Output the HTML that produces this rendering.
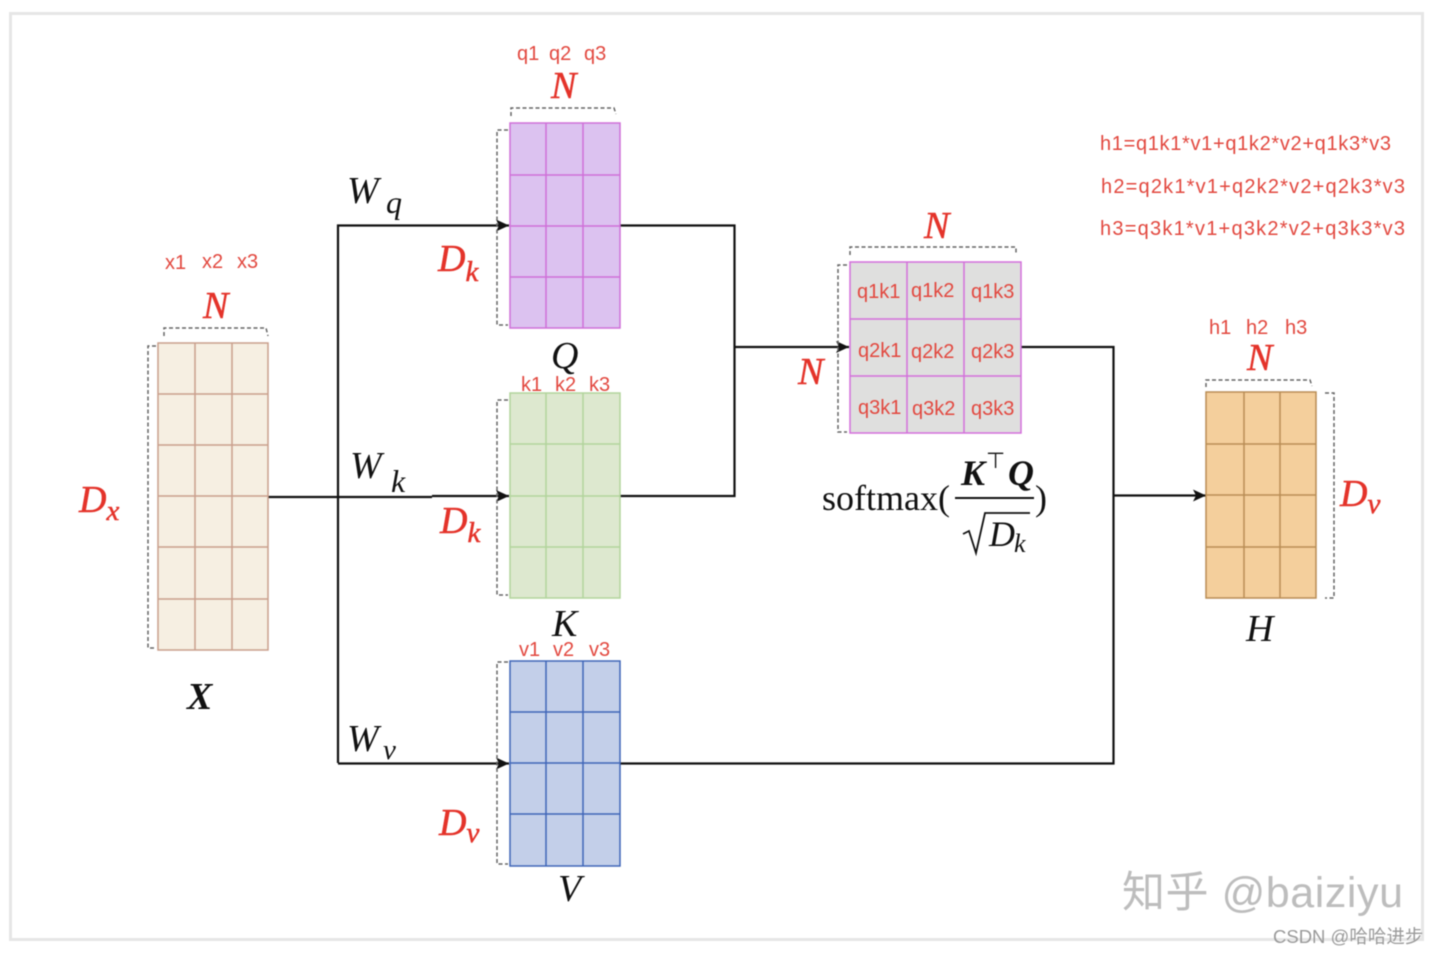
<!DOCTYPE html>
<html><head><meta charset="utf-8"><style>
html,body{margin:0;padding:0;background:#fff}
svg{display:block;filter:blur(.55px)}
.s{font-family:"Liberation Sans",sans-serif;fill:#e2483f}
.m{font-family:"Liberation Serif",serif;font-style:italic}
.r{fill:#e4332a;stroke:#e4332a;stroke-width:.5}
.b{fill:#111}
.d{fill:none;stroke:#666;stroke-width:1.5;stroke-dasharray:4 2.5}
.l{fill:none;stroke:#111;stroke-width:2.2}
</style></head><body>
<svg width="1440" height="956" viewBox="0 0 1440 956" xmlns="http://www.w3.org/2000/svg">
<defs><marker id="a" markerWidth="14" markerHeight="12" refX="13" refY="6" orient="auto" markerUnits="userSpaceOnUse"><path d="M0 0L13 6L0 12L3 6Z" fill="#111"/></marker></defs>
<rect width="1440" height="956" fill="#fff"/>
<rect x="10.5" y="13.5" width="1412" height="926" fill="#fff" stroke="#e6e6e6" stroke-width="3"/>

<!-- connectors -->
<path class="l" d="M268 497H432"/>
<path class="l" d="M432 496H509" marker-end="url(#a)"/>
<path class="l" d="M338 763V225.500H509" marker-end="url(#a)"/>
<path class="l" d="M338 763.500H509" marker-end="url(#a)"/>
<path class="l" d="M620 225.500H734.500V496H620"/>
<path class="l" d="M734 347H849" marker-end="url(#a)"/>
<path class="l" d="M1021 347H1113.500V763.500H620"/>
<path class="l" d="M1113 495.500H1206" marker-end="url(#a)"/>

<!-- X -->
<g stroke="#c99f8c" stroke-width="1.5" fill="none">
<rect x="158" y="343" width="110" height="307" fill="#f6efe2"/>
<path d="M195 343V650M232 343V650M158 394H268M158 445H268M158 496H268M158 547H268M158 599H268"/>
</g>
<!-- Q -->
<g stroke="#cf70d8" stroke-width="1.5" fill="none">
<rect x="510" y="123" width="110" height="205" fill="#dcc2f0"/>
<path d="M546 123V328M583 123V328M510 175H620M510 226H620M510 277H620"/>
</g>
<!-- K -->
<g stroke="#b2d49c" stroke-width="1.5" fill="none">
<rect x="510" y="393" width="110" height="205" fill="#dde8cf"/>
<path d="M546 393V598M583 393V598M510 444H620M510 496H620M510 547H620"/>
</g>
<!-- V -->
<g stroke="#3f66b8" stroke-width="1.5" fill="none">
<rect x="510" y="661" width="110" height="205" fill="#c3cfe9"/>
<path d="M546 661V866M583 661V866M510 712H620M510 763H620M510 814H620"/>
</g>
<!-- matrix -->
<g stroke="#d46fdc" stroke-width="1.5" fill="none">
<rect x="850" y="262" width="171" height="171" fill="#dfdfde"/>
<path d="M907 262V433M964 262V433M850 319H1021M850 376H1021"/>
</g>
<!-- H -->
<g stroke="#b98d55" stroke-width="1.5" fill="none">
<rect x="1206" y="392" width="110" height="206" fill="#f4cf9c"/>
<path d="M1244 392V598M1280 392V598M1206 444H1316M1206 495H1316M1206 547H1316"/>
</g>

<!-- dashed brackets -->
<path class="d" d="M164 336V328H266L268 336"/>
<path class="d" d="M156 346H148V648H156"/>
<path class="d" d="M511 116V108H614L616 114"/>
<path class="d" d="M508 130H497V325H508"/>
<path class="d" d="M508 400H497V595H508"/>
<path class="d" d="M508 662H497V864H508"/>
<path class="d" d="M850 255V247H1016V254"/>
<path class="d" d="M847 265H838V432H847"/>
<path class="d" d="M1206 387V380H1310L1312 386"/>
<path class="d" d="M1325 393H1334V598H1325"/>

<!-- small labels -->
<g class="s" font-size="20">
<text x="165" y="269">x1</text><text x="202" y="268">x2</text><text x="237" y="268">x3</text>
<text x="517" y="60">q1</text><text x="549" y="60">q2</text><text x="584" y="60">q3</text>
<text x="521" y="391">k1</text><text x="555" y="391">k2</text><text x="589" y="391">k3</text>
<text x="519" y="656">v1</text><text x="553" y="656">v2</text><text x="589" y="656">v3</text>
<text x="1209" y="334">h1</text><text x="1246" y="334">h2</text><text x="1285" y="334">h3</text>
<text x="857" y="298">q1k1</text><text x="911" y="297">q1k2</text><text x="971" y="298">q1k3</text>
<text x="858" y="357">q2k1</text><text x="911" y="358">q2k2</text><text x="971" y="358">q2k3</text>
<text x="858" y="414">q3k1</text><text x="912" y="415">q3k2</text><text x="971" y="415">q3k3</text>
</g>
<g class="s" font-size="20">
<text x="1100" y="150" textLength="291">h1=q1k1*v1+q1k2*v2+q1k3*v3</text>
<text x="1101" y="193" textLength="304">h2=q2k1*v1+q2k2*v2+q2k3*v3</text>
<text x="1100" y="235" textLength="305">h3=q3k1*v1+q3k2*v2+q3k3*v3</text>
</g>

<!-- red math -->
<g class="m r" font-size="38">
<text x="203" y="318">N</text>
<text x="551" y="98">N</text>
<text x="924" y="238">N</text>
<text x="798" y="384">N</text>
<text x="1247" y="370">N</text>
<text x="79" y="512">D<tspan font-size="29" dy="8">x</tspan></text>
<text x="438" y="271">D<tspan font-size="29" dy="10">k</tspan></text>
<text x="440" y="533">D<tspan font-size="29" dy="9">k</tspan></text>
<text x="439" y="835">D<tspan font-size="29" dy="7">v</tspan></text>
<text x="1340" y="506">D<tspan font-size="29" dy="7">v</tspan></text>
</g>

<!-- black math -->
<g class="m b" font-size="38">
<text x="347" y="203">W</text><text x="386" y="213" font-size="32">q</text>
<text x="350" y="478">W</text><text x="391" y="492" font-size="32">k</text>
<text x="347" y="751">W</text><text x="383" y="759" font-size="29">v</text>
<text x="551" y="368">Q</text>
<text x="552" y="636">K</text>
<text x="558" y="901">V</text>
<text x="1246" y="641">H</text>
<text x="187" y="709" font-weight="bold">X</text>
</g>

<!-- formula -->
<g class="b">
<text x="822" y="510" font-family="Liberation Serif,serif" font-size="36">softmax(</text>
<text x="961" y="485" class="m" font-weight="bold" font-size="36">K</text>
<text x="986" y="468" font-family="Liberation Sans,sans-serif" font-size="22">⊤</text>
<text x="1008" y="485" class="m" font-weight="bold" font-size="36">Q</text>
<rect x="955" y="497" width="79" height="2"/>
<text x="1035" y="510" font-family="Liberation Serif,serif" font-size="36">)</text>
<path d="M963 534L969 531L976 553L985 513H1030" fill="none" stroke="#111" stroke-width="1.8"/>
<text x="989" y="546" class="m" font-size="36">D</text>
<text x="1014" y="552" class="m" font-size="26">k</text>
</g>

<!-- watermark -->
<text x="1122" y="907" font-family="'Liberation Sans','Noto Sans CJK SC',sans-serif" font-size="43" fill="#bdbdbd" textLength="281">知乎 @baiziyu</text>
<text x="1273" y="943" font-family="'Liberation Sans','Noto Sans CJK SC',sans-serif" font-size="18.5" fill="#9a9a9a">CSDN @哈哈进步</text>
</svg>
</body></html>
